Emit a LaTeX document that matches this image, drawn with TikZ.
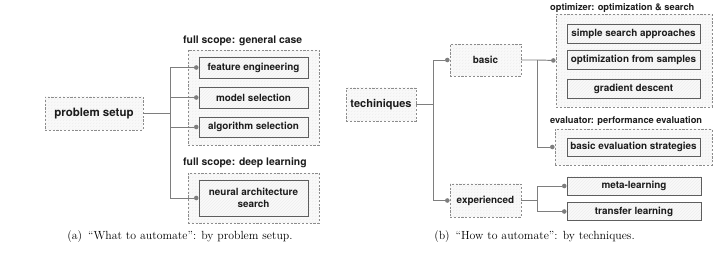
\documentclass[tikz,border=0pt]{standalone}
\usepackage{fontspec}
\setsansfont{TeX Gyre Heros}
\usetikzlibrary{arrows.meta,patterns}

\definecolor{linegray}{HTML}{7E7E7E}
\definecolor{dashgray}{HTML}{8C8C8C}
\definecolor{boxgray}{HTML}{5E5E5E}
\definecolor{inkgray}{HTML}{1C1C1C}

\tikzset{
  hatch/.style={preaction={fill=black!2},
                preaction={pattern=north east lines, pattern color=black!7}},
  groupbox/.style={hatch, draw=dashgray, line width=0.8pt,
                   dash pattern=on 2.2pt off 1.6pt, inner sep=0pt},
  rootbox/.style={groupbox, text=inkgray, font=\sffamily\bfseries},
  itembox/.style={hatch, draw=boxgray, line width=0.9pt, inner sep=0pt,
                  text=inkgray, align=center, font=\sffamily\bfseries\fontsize{9.9}{11.5}\selectfont},
  grouplabel/.style={anchor=west, inner sep=0pt, text=inkgray, font=\sffamily\bfseries},
  conn/.style={draw=linegray, line width=0.95pt, line join=miter,
               -{Circle[length=4.6pt,width=4.6pt,line width=0pt]}},
  caption/.style={inner sep=0pt, text=black, font=\fontsize{11.8}{14}\selectfont}
}

\begin{document}
\begin{tikzpicture}[x=1pt,y=-1pt]
\useasboundingbox (0,0) rectangle (719,256);

% ---------- (a) by problem setup ----------
\node[rootbox, minimum width=98pt, minimum height=33pt,
      font=\sffamily\bfseries\fontsize{11.5}{13}\selectfont] (ps) at (94,113.5) {problem setup};

\node[groupbox, minimum width=131pt, minimum height=95pt] (gen) at (253.5,97.5) {};
\node[grouplabel, font=\sffamily\bfseries\fontsize{10.4}{12}\selectfont] (genlab) at (183,41) {full scope: general case};
\node[itembox, minimum width=109pt, minimum height=21pt] (fe) at (253.5,67.5) {feature engineering};
\node[itembox, minimum width=109pt, minimum height=21pt] (ms) at (253.5,97.5) {model selection};
\node[itembox, minimum width=109pt, minimum height=20pt] (as) at (253.5,127) {algorithm selection};

\node[groupbox, minimum width=131pt, minimum height=50pt] (dl) at (253.5,198) {};
\node[grouplabel, font=\sffamily\bfseries\fontsize{10.4}{12}\selectfont] (dllab) at (183,163) {full scope: deep learning};
\node[itembox, minimum width=109pt, minimum height=36pt] (nas) at (253.5,198) {neural architecture\\search};

\coordinate (ja) at (170,113.5);
\draw[conn] (ps.east) -- (ja) |- (fe.west);
\draw[conn] (ja) |- (ms.west);
\draw[conn] (ja) |- (as.west);
\draw[conn] (ja) |- (nas.west);

\node[caption] (capa) at (180,237) {(a)\enspace ``What to automate'': by problem setup.};

% ---------- (b) by techniques ----------
\node[rootbox, minimum width=70pt, minimum height=33pt,
      font=\sffamily\bfseries\fontsize{11}{13}\selectfont] (tech) at (381,104.5) {techiniques};
\node[rootbox, minimum width=71pt, minimum height=32pt,
      font=\sffamily\bfseries\fontsize{9.9}{12}\selectfont] (basic) at (485.5,60) {basic};
\node[rootbox, minimum width=71pt, minimum height=33pt,
      font=\sffamily\bfseries\fontsize{9.9}{12}\selectfont] (exp) at (485.5,200.5) {experienced};

\node[groupbox, minimum width=156pt, minimum height=93pt] (opt) at (634,60.5) {};
\node[grouplabel, font=\sffamily\bfseries\fontsize{9.3}{11}\selectfont] (optlab) at (550,8) {optimizer: optimization \& search};
\node[itembox, minimum width=133pt, minimum height=19pt] (ssa) at (633.5,33.5) {simple search approaches};
\node[itembox, minimum width=133pt, minimum height=19pt] (ofs) at (633.5,59.5) {optimization from samples};
\node[itembox, minimum width=133pt, minimum height=19pt] (gd) at (633.5,88.5) {gradient descent};

\node[groupbox, minimum width=157pt, minimum height=36pt] (eval) at (633.5,147) {};
\node[grouplabel, font=\sffamily\bfseries\fontsize{9.3}{11}\selectfont] (evallab) at (550,121) {evaluator: performance evaluation};
\node[itembox, minimum width=133pt, minimum height=18pt] (bes) at (633.5,147) {basic evaluation strategies};

\node[itembox, minimum width=134pt, minimum height=18pt] (meta) at (634,186) {meta-learning};
\node[itembox, minimum width=134pt, minimum height=18pt] (tl) at (634,211.5) {transfer learning};

\coordinate (jt) at (433,104.5);
\draw[conn] (tech.east) -- (jt) |- (basic.west);
\draw[conn] (jt) |- (exp.west);

\coordinate (jb) at (537.5,60);
\draw[conn] (basic.east) -- (jb) -- (opt.west);
\draw[conn] (jb) |- (eval.west);

\coordinate (je) at (537.5,200.5);
\draw[conn] (exp.east) -- (je) |- (meta.west);
\draw[conn] (je) |- (tl.west);

\node[caption] (capb) at (534.5,237) {(b)\enspace ``How to automate'': by techniques.};
\end{tikzpicture}
\end{document}
